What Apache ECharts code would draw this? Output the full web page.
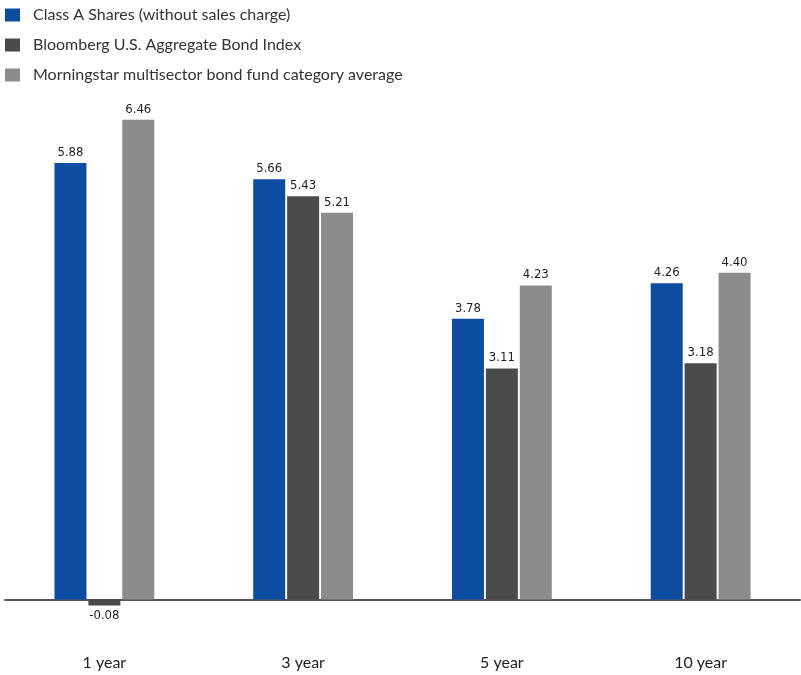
<!DOCTYPE html>
<html>
<head>
<meta charset="utf-8">
<script src="https://cdn.jsdelivr.net/npm/echarts@6/dist/echarts.min.js"></script>
<style>html,body{margin:0;padding:0;background:#fff}#c{width:801px;height:675px}</style>
</head>
<body>
<div id="c"></div>
<script>
var categories = ['1 year', '3 year', '5 year', '10 year'];
var seriesNames = ['Class A Shares (without sales charge)', 'Bloomberg U.S. Aggregate Bond Index', 'Morningstar multisector bond fund category average'];
var classA = [5.88, 5.66, 3.78, 4.26];
var bloomberg = [-0.08, 5.43, 3.11, 3.18];
var morningstar = [6.46, 5.21, 4.23, 4.40];
var colors = ['#0c4da2', '#4b4b4b', '#8c8c8c'];

var labelFont = "'Liberation Sans Narrow', 'Arial Narrow', 'DejaVu Sans Condensed', sans-serif";
var textFont = "Lato, 'Open Sans', sans-serif";

function mkData(arr) {
  return arr.map(function (v) {
    return v < 0 ? { value: v, label: { position: 'bottom' } } : v;
  });
}
function mkSeries(name, arr, color) {
  return {
    name: name, type: 'bar', data: mkData(arr), barWidth: 32, barGap: '6%',
    itemStyle: { color: color },
    label: {
      show: true, position: 'top', distance: 4, color: '#1e1e1e',
      fontFamily: labelFont, fontSize: 13,
      formatter: function (p) { return p.value.toFixed(2); }
    }
  };
}
var chart = echarts.init(document.getElementById('c'));
chart.setOption({
  animation: false,
  color: colors,
  legend: {
    orient: 'vertical', left: 0, top: 2, itemWidth: 15, itemHeight: 13, itemGap: 14,
    icon: 'rect', selectedMode: false,
    textStyle: { fontFamily: textFont, fontSize: 16, color: '#333', padding: [0, 0, 0, 8] },
    data: seriesNames
  },
  grid: { left: 5, right: 1, top: 79.75, bottom: 38.4, containLabel: false, outerBoundsMode: 'none' },
  xAxis: {
    type: 'category', data: categories,
    axisLine: { onZero: true, lineStyle: { color: '#555', width: 2 } },
    axisTick: { show: false },
    axisLabel: { margin: 18, fontFamily: textFont, fontSize: 16, color: '#1e1e1e' }
  },
  yAxis: { type: 'value', min: -0.5, max: 7, show: false, splitLine: { show: false } },
  series: [
    mkSeries(seriesNames[0], classA, colors[0]),
    mkSeries(seriesNames[1], bloomberg, colors[1]),
    mkSeries(seriesNames[2], morningstar, colors[2])
  ]
});
</script>
</body>
</html>
